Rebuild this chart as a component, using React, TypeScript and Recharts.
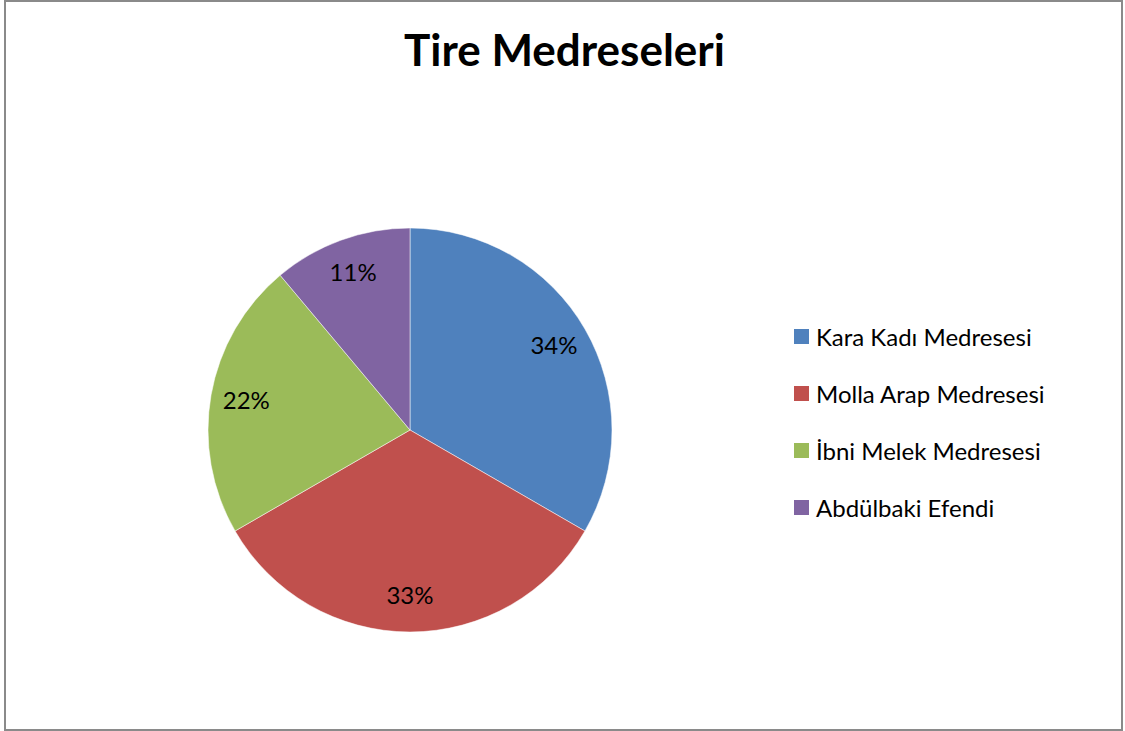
import { PieChart, Pie, Cell, Legend } from "recharts";

const medreseler = ["Kara Kadı Medresesi", "Molla Arap Medresesi", "İbni Melek Medresesi", "Abdülbaki Efendi"];
const degerler = [3, 3, 2, 1];
const renkler = ["#4F81BD", "#C0504D", "#9BBB59", "#8064A2"];

const FONT = "Lato, 'Open Sans', sans-serif";

// yüzdeleri toplamı 100 olacak şekilde yuvarla (en büyük kalan yöntemi)
function yuzdeler(vals: number[]) {
  const toplam = vals.reduce((a, b) => a + b, 0);
  const ham = vals.map((v) => (v / toplam) * 100);
  const taban = ham.map((h) => Math.floor(h));
  let kalan = 100 - taban.reduce((a, b) => a + b, 0);
  const sira = ham
    .map((h, i) => ({ i, r: h - Math.floor(h) }))
    .sort((a, b) => b.r - a.r || a.i - b.i);
  for (const s of sira) {
    if (kalan <= 0) break;
    taban[s.i] += 1;
    kalan--;
  }
  return taban;
}

const yuzde = yuzdeler(degerler);
const dados = medreseler.map((ad, i) => ({ ad, deger: degerler[i], yuzde: yuzde[i] }));

const RAD = Math.PI / 180;

const Etiket = ({ cx, cy, midAngle, outerRadius, index }: any) => {
  const r = outerRadius * 0.823;
  const x = cx + r * Math.cos(-midAngle * RAD);
  const y = cy + r * Math.sin(-midAngle * RAD) - 2;
  return (
    <text
      x={x}
      y={y}
      textAnchor="middle"
      dominantBaseline="central"
      fill="#000"
      style={{ fontFamily: FONT, fontSize: 24 }}
    >
      {dados[index].yuzde}%
    </text>
  );
};

const Lejant = ({ payload }: any) => {
  const items = [...(payload || [])].sort(
    (a: any, b: any) => medreseler.indexOf(a.value) - medreseler.indexOf(b.value)
  );
  return (
    <div style={{ fontFamily: FONT }}>
      {items.map((p: any, i: number) => (
        <div key={i} style={{ display: "flex", alignItems: "center", height: 57 }}>
          <span
            style={{ display: "inline-block", width: 15, height: 15, background: p.color, marginRight: 7 }}
          />
          <span style={{ fontSize: 24, color: "#000" }}>{p.value}</span>
        </div>
      ))}
    </div>
  );
};

export default function App() {
  return (
    <div style={{ position: "absolute", left: 0, top: 0, width: 1125, height: 731, background: "#fff" }}>
      <div
        style={{
          position: "absolute",
          left: 4,
          top: 0,
          width: 1119,
          height: 731,
          boxSizing: "border-box",
          border: "2px solid #8a8a8a",
        }}
      />
      <div
        style={{
          position: "absolute",
          left: 0,
          width: 1125,
          top: 21,
          textAlign: "center",
          paddingLeft: 2,
          fontFamily: FONT,
          fontWeight: 700,
          fontSize: 44,
          lineHeight: "56px",
          color: "#000",
        }}
      >
        Tire Medreseleri
      </div>
      <div style={{ position: "absolute", left: 0, top: 0 }}>
        <PieChart width={1125} height={731} margin={{ top: 0, right: 0, bottom: 0, left: 0 }}>
          <Pie
            data={dados}
            dataKey="deger"
            nameKey="ad"
            cx={410}
            cy={430}
            outerRadius={202}
            startAngle={90}
            endAngle={-270}
            stroke="rgba(255,255,255,0.5)"
            strokeWidth={1}
            label={Etiket}
            labelLine={false}
            isAnimationActive={false}
          >
            {dados.map((d, i) => (
              <Cell key={d.ad} fill={renkler[i]} />
            ))}
          </Pie>
          <Legend
            layout="vertical"
            content={<Lejant />}
            wrapperStyle={{ position: "absolute", left: 794, top: 308, width: 320 }}
          />
        </PieChart>
      </div>
    </div>
  );
}
